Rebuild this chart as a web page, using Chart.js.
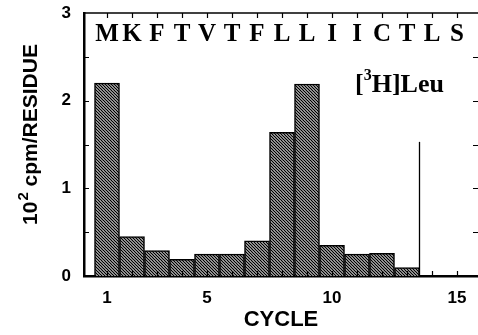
<!DOCTYPE html>
<html>
<head>
<meta charset="utf-8">
<script src="https://cdn.jsdelivr.net/npm/chart.js@4.4.1/dist/chart.umd.min.js"></script>
<style>
  html, body { margin: 0; padding: 0; background: #fff; }
  #wrap { width: 478px; height: 335px; }
</style>
</head>
<body>
<div id="wrap"><canvas id="chart"></canvas></div>
<script>
// Data
const cycles = [1, 2, 3, 4, 5, 6, 7, 8, 9, 10, 11, 12, 13];
const cpm = [2.2, 0.45, 0.29, 0.19, 0.25, 0.25, 0.40, 1.64, 2.19, 0.35, 0.25, 0.26, 0.095];
const residues = ['M', 'K', 'F', 'T', 'V', 'T', 'F', 'L', 'L', 'I', 'I', 'C', 'T', 'L', 'S'];
const xLabels = [1, 5, 10, 15];
const yLabels = [0, 1, 2, 3];
const markerCycle = 13.5;
const markerTop = 1.53;

const SANS = '"Liberation Sans", Arial, sans-serif';
const SERIF = '"Liberation Serif", "Times New Roman", serif';

// Hatch pattern for bars
function makeHatch() {
    const c = document.createElement('canvas');
    c.width = 3;
    c.height = 3;
    const g = c.getContext('2d');
    g.fillStyle = '#fff';
    g.fillRect(0, 0, 3, 3);
    g.strokeStyle = '#000';
    g.lineWidth = 1.3;
    g.beginPath();
    g.moveTo(-1, -1); g.lineTo(4, 4);
    g.moveTo(-1, 2); g.lineTo(1, 4);
    g.moveTo(2, -1); g.lineTo(4, 1);
    g.stroke();
    return g.createPattern(c, 'repeat');
}

// Inward ticks, top border, residue letters and labels
const decorPlugin = {
    id: 'decor',
    afterDatasetsDraw(chart) {
        const ctx = chart.ctx;
        const a = chart.chartArea;
        const xs = chart.scales.x;
        const ys = chart.scales.y;
        ctx.save();
        ctx.strokeStyle = '#000';
        // top border
        ctx.lineWidth = 1.5;
        ctx.beginPath();
        ctx.moveTo(a.left, a.top);
        ctx.lineTo(a.right, a.top);
        ctx.stroke();
        ctx.lineWidth = 1.2;
        ctx.beginPath();
        for (let c = 1; c <= 15; c++) {
            const px = Math.round(xs.getPixelForValue(c)) + 0.5;
            ctx.moveTo(px, a.bottom);
            ctx.lineTo(px, a.bottom - 5);
            ctx.moveTo(px, a.top);
            ctx.lineTo(px, a.top + 5);
        }
        for (let v = 0.5; v < 3; v += 0.5) {
            const py = Math.round(ys.getPixelForValue(v)) + 0.5;
            ctx.moveTo(a.left, py);
            ctx.lineTo(a.left + 5, py);
            ctx.moveTo(a.right, py);
            ctx.lineTo(a.right - 5, py);
        }
        ctx.stroke();

        // residue letters
        ctx.fillStyle = '#000';
        ctx.font = 'bold 25px ' + SERIF;
        ctx.textAlign = 'center';
        ctx.textBaseline = 'alphabetic';
        residues.forEach((r, i) => {
            ctx.fillText(r, xs.getPixelForValue(i + 1), 41);
        });

        // [3H]Leu
        ctx.textAlign = 'left';
        const lx = 355, ly = 92;
        ctx.font = 'bold 26px ' + SERIF;
        ctx.fillText('[', lx, ly);
        const w1 = ctx.measureText('[').width;
        ctx.font = 'bold 16px ' + SERIF;
        ctx.fillText('3', lx + w1, ly - 12);
        const w2 = ctx.measureText('3').width;
        ctx.font = 'bold 26px ' + SERIF;
        ctx.fillText('H]Leu', lx + w1 + w2, ly);

        // y title with superscript
        ctx.translate(37, 135);
        ctx.rotate(-Math.PI / 2);
        const big = 'bold 21px ' + SANS;
        const small = 'bold 15px ' + SANS;
        ctx.font = big;
        const t1 = '10', t3 = ' cpm/RESIDUE';
        const wa = ctx.measureText(t1).width;
        const wc = ctx.measureText(t3).width;
        ctx.font = small;
        const wb = ctx.measureText('2').width;
        let x0 = -(wa + wb + wc) / 2;
        ctx.font = big;
        ctx.fillText(t1, x0, 0);
        ctx.font = small;
        ctx.fillText('2', x0 + wa + 1, -9);
        ctx.font = big;
        ctx.fillText(t3, x0 + wa + wb + 1, 0);
        ctx.restore();
    }
};

const hatch = makeHatch();

new Chart(document.getElementById('chart'), {
    type: 'bar',
    data: {
        datasets: [{
            type: 'bar',
            data: cycles.map((c, i) => ({ x: c, y: cpm[i] })),
            backgroundColor: hatch,
            borderColor: '#000',
            borderWidth: 1.5,
            barPercentage: 1,
            categoryPercentage: 1,
            order: 2
        }, {
            type: 'line',
            data: [{ x: markerCycle, y: 0 }, { x: markerCycle, y: markerTop }],
            borderColor: '#000',
            borderWidth: 1.3,
            pointRadius: 0,
            order: 1
        }]
    },
    plugins: [decorPlugin],
    options: {
        responsive: true,
        maintainAspectRatio: false,
        animation: false,
        layout: { padding: { top: 13, right: 0, left: 0, bottom: 0 } },
        plugins: { legend: { display: false }, tooltip: { enabled: false } },
        scales: {
            x: {
                type: 'linear',
                offset: false,
                min: 0.08,
                max: 15.84,
                afterBuildTicks(scale) {
                    scale.ticks = xLabels.map(v => ({ value: v }));
                },
                afterFit(scale) {
                    scale.height = 59;
                    scale.paddingLeft = 0;
                    scale.paddingRight = 0;
                },
                grid: { display: false, drawTicks: false, offset: false },
                border: { display: true, color: '#000', width: 2.5 },
                ticks: {
                    color: '#000',
                    padding: 12,
                    font: { family: SANS, size: 17, weight: 'bold' }
                },
                title: {
                    display: true,
                    text: 'CYCLE',
                    color: '#000',
                    padding: { top: 0, bottom: 2 },
                    font: { family: SANS, size: 22, weight: 'bold' }
                }
            },
            y: {
                min: 0,
                max: 3,
                afterBuildTicks(scale) {
                    scale.ticks = yLabels.map(v => ({ value: v }));
                },
                afterFit(scale) {
                    scale.width = 84;
                    scale.paddingTop = 0;
                    scale.paddingBottom = 0;
                },
                grid: { display: false, drawTicks: false },
                border: { display: true, color: '#000', width: 2.5 },
                ticks: {
                    color: '#000',
                    padding: 13,
                    font: { family: SANS, size: 17, weight: 'bold' }
                }
            }
        }
    }
});
</script>
</body>
</html>
